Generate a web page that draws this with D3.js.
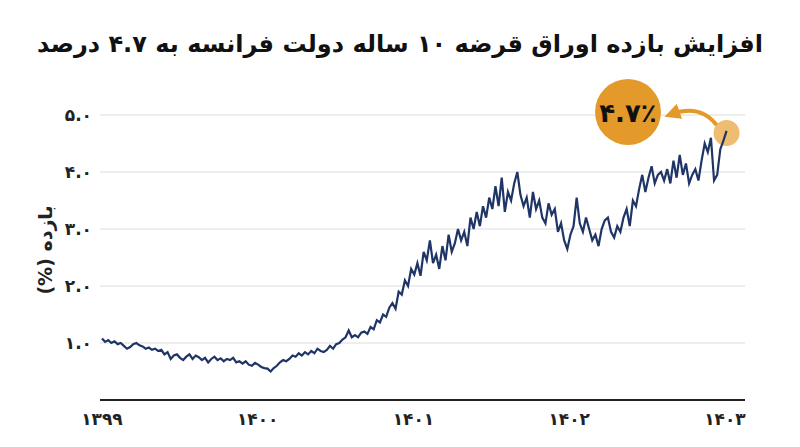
<!DOCTYPE html>
<html><head><meta charset="utf-8">
<script src="https://cdn.jsdelivr.net/npm/d3@7.9.0/dist/d3.min.js"></script>
<style>body{margin:0;background:#fff}text{font-family:"DejaVu Sans",sans-serif}</style>
</head><body><svg id="c" width="800" height="447"></svg>
<script>
// weekly-ish yield readings in %, from start of 1399 to start of 1403
const yields = [1.08,1.02,1.05,1.00,1.03,0.98,1.00,0.95,0.90,0.93,0.98,1.00,0.96,0.94,0.90,0.92,0.88,0.90,0.86,0.88,0.80,0.84,0.72,0.78,0.80,0.74,0.70,0.76,0.80,0.72,0.78,0.75,0.70,0.74,0.66,0.72,0.76,0.70,0.73,0.68,0.72,0.70,0.74,0.66,0.68,0.64,0.68,0.62,0.60,0.65,0.62,0.58,0.56,0.55,0.50,0.56,0.60,0.66,0.70,0.68,0.72,0.78,0.76,0.82,0.78,0.84,0.80,0.86,0.82,0.90,0.86,0.84,0.88,0.95,0.90,0.98,1.00,1.06,1.10,1.22,1.10,1.14,1.10,1.18,1.20,1.16,1.28,1.24,1.40,1.36,1.50,1.46,1.62,1.70,1.60,1.90,1.85,2.10,2.00,2.30,2.20,2.40,2.18,2.60,2.45,2.80,2.40,2.55,2.30,2.70,2.45,2.90,2.60,2.75,3.00,2.80,2.95,2.70,3.20,3.00,3.30,3.05,3.40,3.20,3.55,3.35,3.75,3.40,3.90,3.30,3.65,3.50,3.80,4.00,3.60,3.40,3.55,3.20,3.65,3.35,3.50,3.20,3.10,3.45,3.25,3.35,2.95,3.10,2.80,2.65,2.90,3.05,3.55,3.10,2.95,3.20,3.00,2.80,2.90,2.70,3.00,3.15,3.20,2.95,2.85,3.05,2.95,3.20,3.35,3.05,3.50,3.40,3.70,3.95,3.65,3.90,4.10,3.80,3.95,4.00,3.85,4.05,3.80,4.20,3.90,4.30,3.95,4.15,3.80,3.95,4.05,3.85,4.20,4.50,4.35,4.60,3.85,3.95,4.40,4.55,4.72];
const startYear = 1399, endYear = 1403.01;
const yTicks = [1, 2, 3, 4, 5];
const yTickLabels = ["۱.۰","۲.۰","۳.۰","۴.۰","۵.۰"];
const xTicks = [1399, 1400, 1401, 1402, 1403];
const xTickLabels = ["۱۳۹۹","۱۴۰۰","۱۴۰۱","۱۴۰۲","۱۴۰۳"];

const svg = d3.select('#c');
const x = d3.scaleLinear().domain([1399, 1403]).range([102, 725]);
const y = d3.scaleLinear().domain([0, 5]).range([400, 115]);

svg.append('text').attr('x', 400).attr('y', 52).attr('text-anchor', 'middle')
  .attr('direction', 'rtl')
  .attr('font-size', 24).attr('font-weight', 'bold').attr('fill', '#111')
  .text('افزایش بازده اوراق قرضه ۱۰ ساله دولت فرانسه به ۴.۷ درصد');

svg.selectAll('line.grid').data(yTicks).join('line').attr('class', 'grid')
  .attr('x1', 100).attr('x2', 745).attr('y1', d => y(d)).attr('y2', d => y(d))
  .attr('stroke', '#dcdcdc').attr('stroke-width', 1);
svg.selectAll('text.yt').data(yTicks).join('text').attr('class', 'yt')
  .attr('x', 92).attr('y', d => y(d) + 6).attr('text-anchor', 'end')
  .attr('font-size', 17).attr('font-weight', 'bold').attr('fill', '#222')
  .text((d, i) => yTickLabels[i]);

svg.append('line').attr('x1', 100).attr('x2', 745).attr('y1', 400).attr('y2', 400)
  .attr('stroke', '#222').attr('stroke-width', 2);
svg.selectAll('text.xt').data(xTicks).join('text').attr('class', 'xt')
  .attr('x', d => x(d)).attr('y', 425).attr('text-anchor', 'middle')
  .attr('font-size', 17).attr('font-weight', 'bold').attr('fill', '#222')
  .text((d, i) => xTickLabels[i]);

svg.append('text').attr('transform', 'translate(52,250) rotate(-90)')
  .attr('direction', 'rtl')
  .attr('text-anchor', 'middle').attr('font-size', 19).attr('font-weight', 'bold')
  .attr('fill', '#222').text('بازده (%)');

const step = (endYear - startYear) / (yields.length - 1);
const data = yields.map((v, i) => [startYear + i * step, v]);

// highlight of last value
const last = data[data.length - 1];
svg.append('circle').attr('cx', x(last[0])).attr('cy', y(last[1]) + 2).attr('r', 13)
  .attr('fill', '#eebd72');

svg.append('path').datum(data)
  .attr('d', d3.line().x(d => x(d[0])).y(d => y(d[1])))
  .attr('fill', 'none').attr('stroke', '#1f3566').attr('stroke-width', 2.2);

svg.append('defs').append('marker').attr('id', 'ah').attr('viewBox', '0 0 10 10')
  .attr('refX', 5).attr('refY', 5).attr('markerWidth', 4).attr('markerHeight', 4)
  .attr('orient', 'auto-start-reverse')
  .append('path').attr('d', 'M0,0L10,5L0,10z').attr('fill', '#e39a2a');
svg.append('path').attr('d', `M${x(last[0]) - 10},${y(last[1]) - 6} Q700,104 672,114`)
  .attr('fill', 'none').attr('stroke', '#e39a2a').attr('stroke-width', 4)
  .attr('marker-end', 'url(#ah)');
svg.append('circle').attr('cx', 628).attr('cy', 112).attr('r', 33).attr('fill', '#e39a2a');
svg.append('text').attr('x', 628).attr('y', 122).attr('text-anchor', 'middle')
  .attr('font-size', 26).attr('font-weight', 'bold').attr('fill', '#111').text('۴.۷٪');
</script></body></html>
